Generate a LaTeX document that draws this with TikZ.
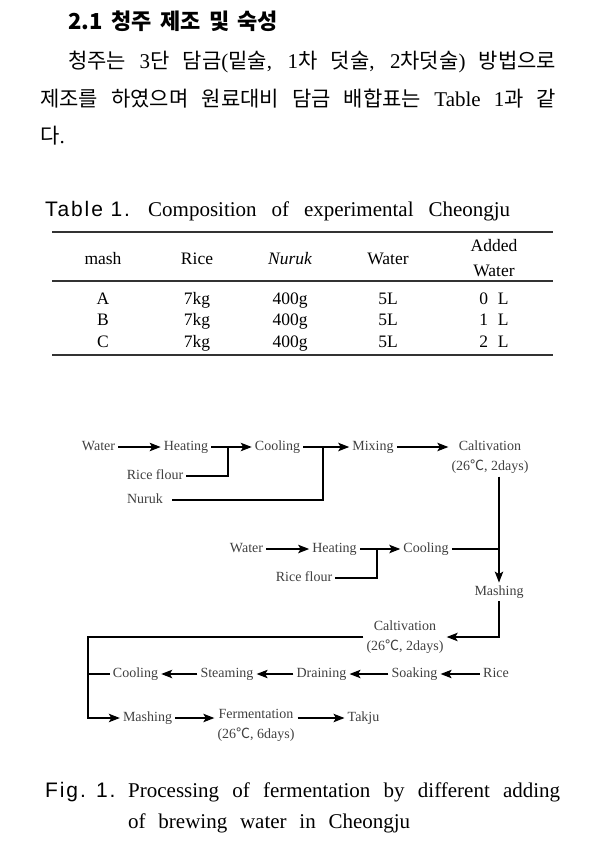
\documentclass[tikz,border=0pt]{standalone}
\usepackage{fontspec}
\setmainfont{Liberation Serif}
\newfontfamily\krfont{Noto Sans CJK KR}
\newfontfamily\labelfont[LetterSpace=9]{Liberation Sans}
\usetikzlibrary{arrows.meta, positioning}
\newcommand{\ko}[1]{{\krfont #1}}
\newcommand{\flowfont}{\fontsize{14}{20}\selectfont}

\begin{document}
\begin{tikzpicture}[
    x=1pt, y=-1pt,
    textline/.style={inner sep=0pt, anchor=base west},
    tabcell/.style={inner sep=0pt, anchor=base, font=\fontsize{17.5}{21}\selectfont},
    tabrule/.style={line width=1.5pt, black!80},
    flowtxt/.style={font=\flowfont, text=black!75, inner sep=3pt, text height=9.5pt, text depth=3pt},
    flowtwo/.style={font=\flowfont, text=black!75, inner sep=3pt, align=center},
    flowline/.style={line width=1.1pt},
    flowarr/.style={-{Stealth[length=11pt, width=8.5pt, inset=2.5pt]}, line width=1.1pt}
]
\useasboundingbox (0,0) rectangle (590,846);

% heading and paragraph
\node[textline, font=\fontsize{22}{26}\selectfont\krfont\bfseries] (heading) at (68,29) {\makebox[210pt][s]{2.1 청주 제조 및 숙성}};
\node[textline, font=\fontsize{21}{38}\selectfont] (para1) at (68,68) {\makebox[488pt][s]{\ko{청주는} 3\ko{단} \ko{담금}(\ko{밑술}, 1\ko{차} \ko{덧술}, 2\ko{차덧술}) \ko{방법으로}}};
\node[textline, font=\fontsize{21}{38}\selectfont] (para2) at (40,106) {\makebox[516pt][s]{\ko{제조를} \ko{하였으며} \ko{원료대비} \ko{담금} \ko{배합표는} Table 1\ko{과} \ko{같}}};
\node[textline, font=\fontsize{21}{38}\selectfont] (para3) at (40,143) {\ko{다}.};

% table
\node[textline, font=\fontsize{21}{24}\selectfont\labelfont] (tabtag) at (45,216) {Table 1.};
\node[textline, font=\fontsize{21}{24}\selectfont] (tabtitle) at (148,216) {\makebox[362pt][s]{Composition of experimental Cheongju}};

\draw[tabrule] (52,232) -- (553,232);
\draw[tabrule] (52,281) -- (553,281);
\draw[tabrule] (52,355) -- (553,355);

\node[tabcell] (hmash) at (103,264) {mash};
\node[tabcell] (hrice) at (197,264) {Rice};
\node[tabcell] (hnuruk) at (290,264) {\itshape Nuruk};
\node[tabcell] (hwater) at (388,264) {Water};
\node[tabcell] (hadded) at (494,251) {Added};
\node[tabcell] (haddedw) at (494,276) {Water};

\node[tabcell] (ma) at (103,304) {A};
\node[tabcell] (ra) at (197,304) {7kg};
\node[tabcell] (na) at (290,304) {400g};
\node[tabcell] (wa) at (388,304) {5L};
\node[tabcell] (aa) at (494,304) {0\hspace{0.55em}L};
\node[tabcell] (mb) at (103,325) {B};
\node[tabcell] (rb) at (197,325) {7kg};
\node[tabcell] (nb) at (290,325) {400g};
\node[tabcell] (wb) at (388,325) {5L};
\node[tabcell] (ab) at (494,325) {1\hspace{0.55em}L};
\node[tabcell] (mc) at (103,347) {C};
\node[tabcell] (rc) at (197,347) {7kg};
\node[tabcell] (nc) at (290,347) {400g};
\node[tabcell] (wc) at (388,347) {5L};
\node[tabcell] (ac) at (494,347) {2\hspace{0.55em}L};

% flow chart
\node[flowtxt] (water1) at (98.5,447) {Water};
\node[flowtxt] (heat1) at (186,447) {Heating};
\node[flowtxt] (cool1) at (277.5,447) {Cooling};
\node[flowtxt] (mix1) at (373,447) {Mixing};
\node[flowtwo] (calt1) at (490,457) {Caltivation\\(26\ko{℃}, 2days)};
\node[flowtxt] (rice1) at (155,476) {Rice flour};
\node[flowtxt] (nuruk1) at (145,500) {Nuruk};
\coordinate (j1) at (228,447);
\coordinate (j2) at (323,447);

\draw[flowarr] (water1) -- (heat1);
\draw[flowarr] (heat1) -- (cool1);
\draw[flowline] (rice1) -| (j1);
\draw[flowarr] (cool1) -- (mix1);
\draw[flowline] ([xshift=6pt]nuruk1.east) -| (j2);
\draw[flowarr] (mix1) -- (mix1 -| calt1.west);

\node[flowtxt] (water2) at (246.5,549) {Water};
\node[flowtxt] (heat2) at (334.5,549) {Heating};
\node[flowtxt] (cool2) at (426,549) {Cooling};
\node[flowtxt] (rice2) at (304,578) {Rice flour};
\node[flowtxt] (mash1) at (499,592) {Mashing};
\coordinate (j3) at (377,549);

\draw[flowarr] (water2) -- (heat2);
\draw[flowarr] (heat2) -- (cool2);
\draw[flowline] (rice2) -| (j3);
\draw[flowarr] (calt1.south -| mash1) -- (mash1);
\draw[flowline] (cool2) -- (cool2 -| mash1);

\node[flowtwo] (calt2) at (405,637) {Caltivation\\(26\ko{℃}, 2days)};
\draw[flowarr] (mash1) |- (calt2);

\node[flowtxt] (rice3) at (496,674) {Rice};
\node[flowtxt] (soak) at (414.5,674) {Soaking};
\node[flowtxt] (drain) at (321.5,674) {Draining};
\node[flowtxt] (steam) at (227,674) {Steaming};
\node[flowtxt] (cool3) at (135.5,674) {Cooling};
\coordinate (corner) at (88,718);

\draw[flowarr] (rice3) -- (soak);
\draw[flowarr] (soak) -- (drain);
\draw[flowarr] (drain) -- (steam);
\draw[flowarr] (steam) -- (cool3);
\draw[flowline] (cool3) -- (cool3 -| corner);

\node[flowtxt] (mash2) at (147.5,718) {Mashing};
\node[flowtwo] (ferm) at (256,725) {Fermentation\\(26\ko{℃}, 6days)};
\node[flowtxt] (takju) at (363.5,718) {Takju};

\draw[flowarr] (calt2) -| (corner) -- (mash2);
\draw[flowarr] (mash2) -- (mash2 -| ferm.west);
\draw[flowarr] (ferm.east |- takju) -- (takju);

% caption
\node[textline, font=\fontsize{21}{24}\selectfont\labelfont] (figtag) at (45,797) {Fig. 1.};
\node[textline, font=\fontsize{21}{32}\selectfont] (cap1) at (128,797) {\makebox[432pt][s]{Processing of fermentation by different adding}};
\node[textline, font=\fontsize{21}{32}\selectfont] (cap2) at (128,828) {\makebox[282pt][s]{of brewing water in Cheongju}};
\end{tikzpicture}
\end{document}
